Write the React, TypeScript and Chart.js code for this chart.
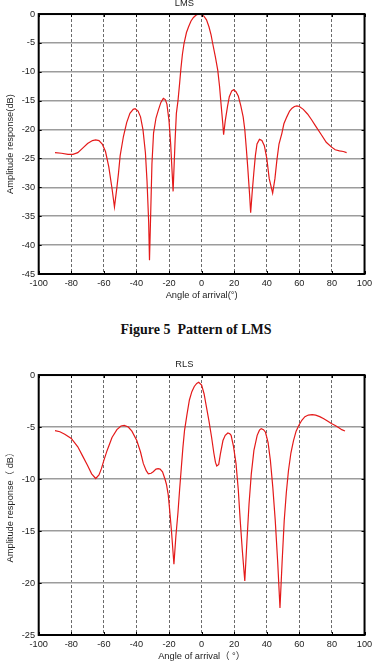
import React, { useEffect, useRef } from "react";
import { Chart, registerables } from "chart.js";

Chart.register(...registerables);

// ---------- data ----------
const lmsAngles = [
  -90, -86, -82, -79, -76, -73, -70, -67, -65, -63, -61, -59, -57, -55, -53.5, -52, -51, -50, -48, -46,
  -44, -42, -40.8, -39, -37.5, -36, -34.5, -33.5, -32.5, -32, -31.3, -30.5, -29.5, -28, -26.5, -25,
  -23.5, -22.3, -21.3, -20, -19, -17.5, -16.3, -15.5, -14.5, -13.5, -12.7, -11.8, -10.8, -9.3, -8, -6.5,
  -5, -3.5, -2, 0, 1.5, 3, 4.5, 5.8, 6.8, 8.5, 9.9, 11, 11.9, 13, 13.5, 14.5, 15.9, 17, 18.5, 19.6,
  21, 22.5, 24, 25.5, 26.5, 27.5, 28.3, 29.5, 30.1, 31, 32, 33, 34, 35.5, 37, 38.5, 40, 41.5, 43.6,
  45, 46.2, 47.5, 49.3, 50.5, 52.3, 54, 55.5, 57, 58.5, 60, 62.4, 65, 67.5, 70, 73.5, 76.5, 79.6, 82,
  84.6, 87, 89,
];
const lmsValues = [
  -24.0, -24.1, -24.3, -24.3, -24.0, -23.2, -22.4, -21.9, -21.8, -21.9, -22.5, -23.8, -26.4, -30.2,
  -33.4, -30.0, -27.5, -24.5, -21.2, -18.8, -17.2, -16.5, -16.4, -16.8, -17.8, -20.0, -24.0, -29.0,
  -36.0, -42.6, -35.0, -26.0, -20.6, -18.0, -16.6, -15.3, -14.6, -14.8, -15.6, -18.5, -22.5, -30.7,
  -22.0, -17.2, -15.0, -12.0, -9.4, -7.0, -5.1, -3.2, -2.2, -1.2, -0.6, -0.2, 0, -0.1, -0.4, -1.0,
  -2.2, -3.6, -5.1, -7.5, -9.7, -12.5, -15.5, -19.0, -20.9, -18.5, -16.0, -14.3, -13.3, -13.1, -13.4,
  -14.2, -15.8, -17.8, -20.0, -23.5, -26.5, -31.5, -34.4, -31.0, -27.6, -24.5, -22.5, -21.7, -21.9,
  -22.8, -25.0, -28.5, -31.0, -28.5, -25.3, -22.5, -20.6, -19.0, -17.8, -16.8, -16.3, -16.0, -15.9,
  -16.0, -16.5, -17.3, -18.3, -19.4, -20.9, -22.2, -23.0, -23.5, -23.7, -23.8, -24.0,
];

const rlsAngles = [
  -90, -87, -84, -80, -76, -73, -70, -67.5, -65, -63, -61.5, -60, -58, -55, -52, -49.5, -47.5, -45,
  -42.8, -39.8, -37.5, -35.8, -34, -32.7, -31, -29.7, -28, -26.7, -25.5, -24, -22.5, -21.6, -20.5,
  -19.6, -18.5, -17, -15.8, -14.5, -13.5, -12.5, -11.5, -10.5, -9, -7.5, -6, -4.5, -3, -1.8, 0, 1.5,
  3, 4.5, 6.1, 7.5, 8.5, 9.3, 10.5, 11.5, 13.1, 14.5, 16.1, 17.3, 18.1, 19.5, 21.1, 22.5, 23.7, 25,
  26.5, 27.8, 29.1, 30.5, 32.1, 34.1, 35.5, 36.6, 38, 39.2, 40.8, 42.2, 43.7, 45.2, 46.7, 48.1, 49.4,
  50.7, 52, 53.3, 54.8, 56.4, 58, 59.8, 61.5, 63.4, 65.5, 67.9, 70, 72.5, 75, 77.5, 79.6, 82, 84.5,
  86, 88,
];
const rlsValues = [
  -5.35, -5.45, -5.7, -6.1, -6.9, -7.8, -8.7, -9.5, -9.95, -9.6, -9.0, -8.2, -7.25, -6.0, -5.25, -4.9,
  -4.85, -5.0, -5.4, -6.3, -7.4, -8.5, -9.2, -9.5, -9.45, -9.3, -9.05, -9.0, -9.05, -9.3, -10.0, -10.5,
  -11.5, -13.0, -15.0, -18.2, -15.5, -13.2, -11.0, -9.0, -7.0, -5.35, -3.8, -2.4, -1.6, -1.1, -0.8,
  -0.7, -0.97, -1.8, -3.1, -4.4, -5.96, -7.5, -8.4, -8.75, -8.6, -7.6, -6.3, -5.8, -5.57, -5.65, -5.8,
  -6.8, -8.5, -11.0, -14.0, -16.9, -19.8, -16.0, -12.4, -9.5, -7.25, -5.8, -5.3, -5.15, -5.25, -5.5,
  -6.5, -8.2, -10.8, -14.0, -18.0, -22.4, -18.0, -14.0, -11.3, -9.2, -7.5, -6.3, -5.4, -4.8, -4.35,
  -4.0, -3.85, -3.8, -3.85, -4.0, -4.2, -4.45, -4.67, -4.85, -5.1, -5.25, -5.38,
];

const xMin = -100;
const xMax = 100;
const xStep = 20;
const lmsYMin = -45;
const rlsYMin = -25;
const yMax = 0;
const yStep = 5;

const captionText = "Figure 5\u00a0\u00a0Pattern of LMS";

// ---------- styling ----------
const FONT = "Arial, 'Liberation Sans', 'Noto Sans CJK SC', sans-serif";
const TEXT = "#222";

const framePlugin = {
  id: "frame",
  afterDraw(chart: any) {
    const { ctx, chartArea: a, scales } = chart;
    ctx.save();
    ctx.strokeStyle = "#000";
    ctx.lineWidth = 1;
    ctx.beginPath();
    scales.x.ticks.forEach((t: any) => {
      const p = Math.round(scales.x.getPixelForValue(t.value)) + 0.5;
      ctx.moveTo(p, a.top);
      ctx.lineTo(p, a.top + 3);
      ctx.moveTo(p, a.bottom);
      ctx.lineTo(p, a.bottom - 3);
    });
    scales.y.ticks.forEach((t: any) => {
      const p = Math.round(scales.y.getPixelForValue(t.value)) + 0.5;
      ctx.moveTo(a.left, p);
      ctx.lineTo(a.left + 3, p);
      ctx.moveTo(a.right, p);
      ctx.lineTo(a.right - 3, p);
    });
    ctx.stroke();
    ctx.lineWidth = 2;
    ctx.strokeRect(a.left, a.top, a.right - a.left, a.bottom - a.top);
    ctx.restore();
  },
};

type PanelProps = {
  title: string;
  xTitle: string;
  yTitle: string;
  angles: number[];
  values: number[];
  yMin: number;
  top: number;
};

function Panel({ title, xTitle, yTitle, angles, values, yMin, top }: PanelProps) {
  const ref = useRef<HTMLCanvasElement>(null);
  useEffect(() => {
    if (!ref.current) return;
    const chart = new Chart(ref.current, {
      type: "line",
      data: {
        datasets: [
          {
            data: angles.map((a, i) => ({ x: a, y: values[i] })),
            borderColor: "#e41a1a",
            borderWidth: 1.2,
            pointRadius: 0,
            tension: 0,
            fill: false,
          },
        ],
      },
      options: {
        animation: false,
        responsive: false,
        devicePixelRatio: 1,
        layout: { padding: { left: 0, right: 7.3, top: 0, bottom: 1 } },
        plugins: {
          legend: { display: false },
          tooltip: { enabled: false },
          title: {
            display: true,
            text: title,
            color: TEXT,
            font: { family: FONT, size: 9.3, weight: "normal", lineHeight: 0.8 },
            padding: { top: 0, bottom: 6.6 },
          },
        },
        scales: {
          x: {
            type: "linear",
            min: xMin,
            max: xMax,
            afterFit: (s: any) => {
              s.height = 30;
            },
            ticks: {
              stepSize: xStep,
              autoSkip: false,
              maxRotation: 0,
              padding: 3.8,
              color: TEXT,
              font: { family: FONT, size: 9.2 },
            },
            grid: { color: "#6a6a6a", lineWidth: 1, drawTicks: false },
            border: { display: false, dash: [3, 2] },
            title: {
              display: true,
              text: xTitle,
              color: TEXT,
              font: { family: FONT, size: 9.3 },
              padding: { top: 0, bottom: 3.4 },
            },
          },
          y: {
            type: "linear",
            min: yMin,
            max: yMax,
            afterFit: (s: any) => {
              s.width = 38.7;
            },
            ticks: {
              stepSize: yStep,
              padding: 3.7,
              color: TEXT,
              font: { family: FONT, size: 9.2 },
            },
            grid: { color: "#9c9c9c", lineWidth: 1.5, drawTicks: false },
            border: { display: false },
            title: {
              display: true,
              text: yTitle,
              color: TEXT,
              font: { family: FONT, size: 9.3 },
              padding: { top: 4.7, bottom: 0 },
            },
          },
        },
      },
      plugins: [framePlugin],
    } as any);
    return () => chart.destroy();
  }, []);
  return (
    <canvas
      ref={ref}
      width={376}
      height={305}
      style={{ position: "absolute", left: 0, top, width: 376, height: 305 }}
    />
  );
}

export default function App() {
  return (
    <div
      style={{
        position: "relative",
        width: 376,
        height: 666,
        overflow: "hidden",
        background: "#fff",
      }}
    >
      <style>{`html,body{margin:0;padding:0;overflow:hidden;background:#fff}`}</style>
      <Panel
        title="LMS"
        xTitle="Angle of arrival(°)"
        yTitle="Amplitude response(dB)"
        angles={lmsAngles}
        values={lmsValues}
        yMin={lmsYMin}
        top={0}
      />
      <div
        style={{
          position: "absolute",
          left: 20,
          width: 352,
          top: 321.5,
          textAlign: "center",
          fontFamily: "'Liberation Serif', 'Times New Roman', serif",
          fontWeight: "bold",
          fontSize: 14,
          lineHeight: "16px",
          color: "#111",
          whiteSpace: "pre",
        }}
      >
        {captionText}
      </div>
      <Panel
        title="RLS"
        xTitle="Angle of arrival（ °）"
        yTitle="Amplitude response（ dB）"
        angles={rlsAngles}
        values={rlsValues}
        yMin={rlsYMin}
        top={361}
      />
    </div>
  );
}
